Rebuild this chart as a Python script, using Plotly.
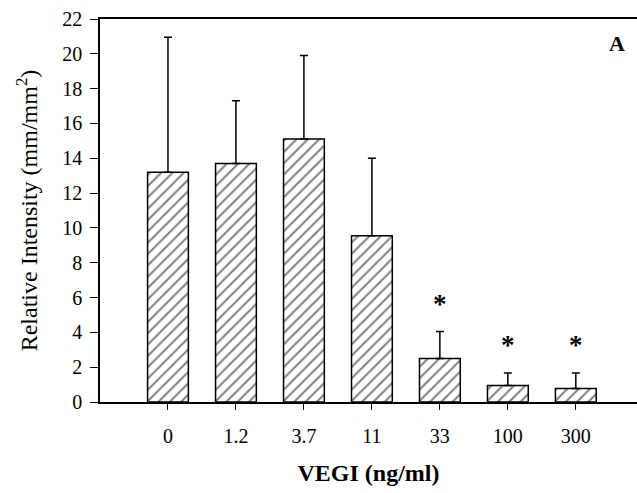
import plotly.graph_objects as go

# VEGI dose (ng/ml) and relative intensity
doses = ['0', '1.2', '3.7', '11', '33', '100', '300']
intensity = [13.2, 13.7, 15.1, 9.55, 2.5, 0.95, 0.78]
err_plus = [7.75, 3.6, 4.8, 4.45, 1.55, 0.72, 0.89]

# significance markers
star_doses = ['33', '100', '300']
star_y = [5.5, 3.15, 3.15]

serif = 'Liberation Serif, Times New Roman, serif'

fig = go.Figure()

fig.add_trace(go.Bar(
    x=doses,
    y=intensity,
    width=0.6,
    marker=dict(
        color='white',
        line=dict(color='black', width=1.5),
        pattern=dict(shape='/', fgcolor='black', bgcolor='white', size=8, solidity=0.25),
    ),
    error_y=dict(type='data', symmetric=False, array=err_plus,
                 arrayminus=[0] * len(err_plus),
                 color='black', thickness=1.5, width=4),
    showlegend=False,
))

fig.add_trace(go.Scatter(
    x=star_doses,
    y=star_y,
    mode='text',
    text=['<b>*</b>'] * len(star_doses),
    textfont=dict(family=serif, size=27, color='black'),
    showlegend=False,
))

fig.add_annotation(
    text='<b>A</b>', xref='paper', yref='paper', x=0.963, y=0.937,
    xanchor='center', yanchor='middle',
    showarrow=False, font=dict(family=serif, size=22, color='black'),
)

fig.update_layout(
    width=637, height=493,
    paper_bgcolor='white', plot_bgcolor='white',
    margin=dict(l=100, r=0, t=19, b=91),
    font=dict(family=serif, size=20, color='black'),
    bargap=0.4,
)

fig.update_xaxes(
    type='category',
    range=[-1, 6.9],
    automargin=False,
    showline=True, linecolor='black', linewidth=1.5, mirror=True,
    ticks='outside', ticklen=6, tickcolor='black',
    ticklabelstandoff=9,
    showgrid=False, zeroline=False,
    title=dict(text='<b>VEGI (ng/ml)</b>', font=dict(size=24), standoff=18),
)

fig.update_yaxes(
    range=[0, 22],
    dtick=2,
    automargin=False,
    showline=True, linecolor='black', linewidth=1.5,
    ticks='outside', ticklen=8, tickcolor='black',
    ticklabelstandoff=4,
    showgrid=False, zeroline=False,
    title=dict(text='Relative Intensity (mm/mm<sup>2</sup>)', standoff=18),
)

# drop the page's default 8px body margin so the figure sits at the top-left corner
fig.write_html('out.html', config={'displayModeBar': False},
               post_script="document.body.style.margin='0';document.body.style.overflow='hidden';")
